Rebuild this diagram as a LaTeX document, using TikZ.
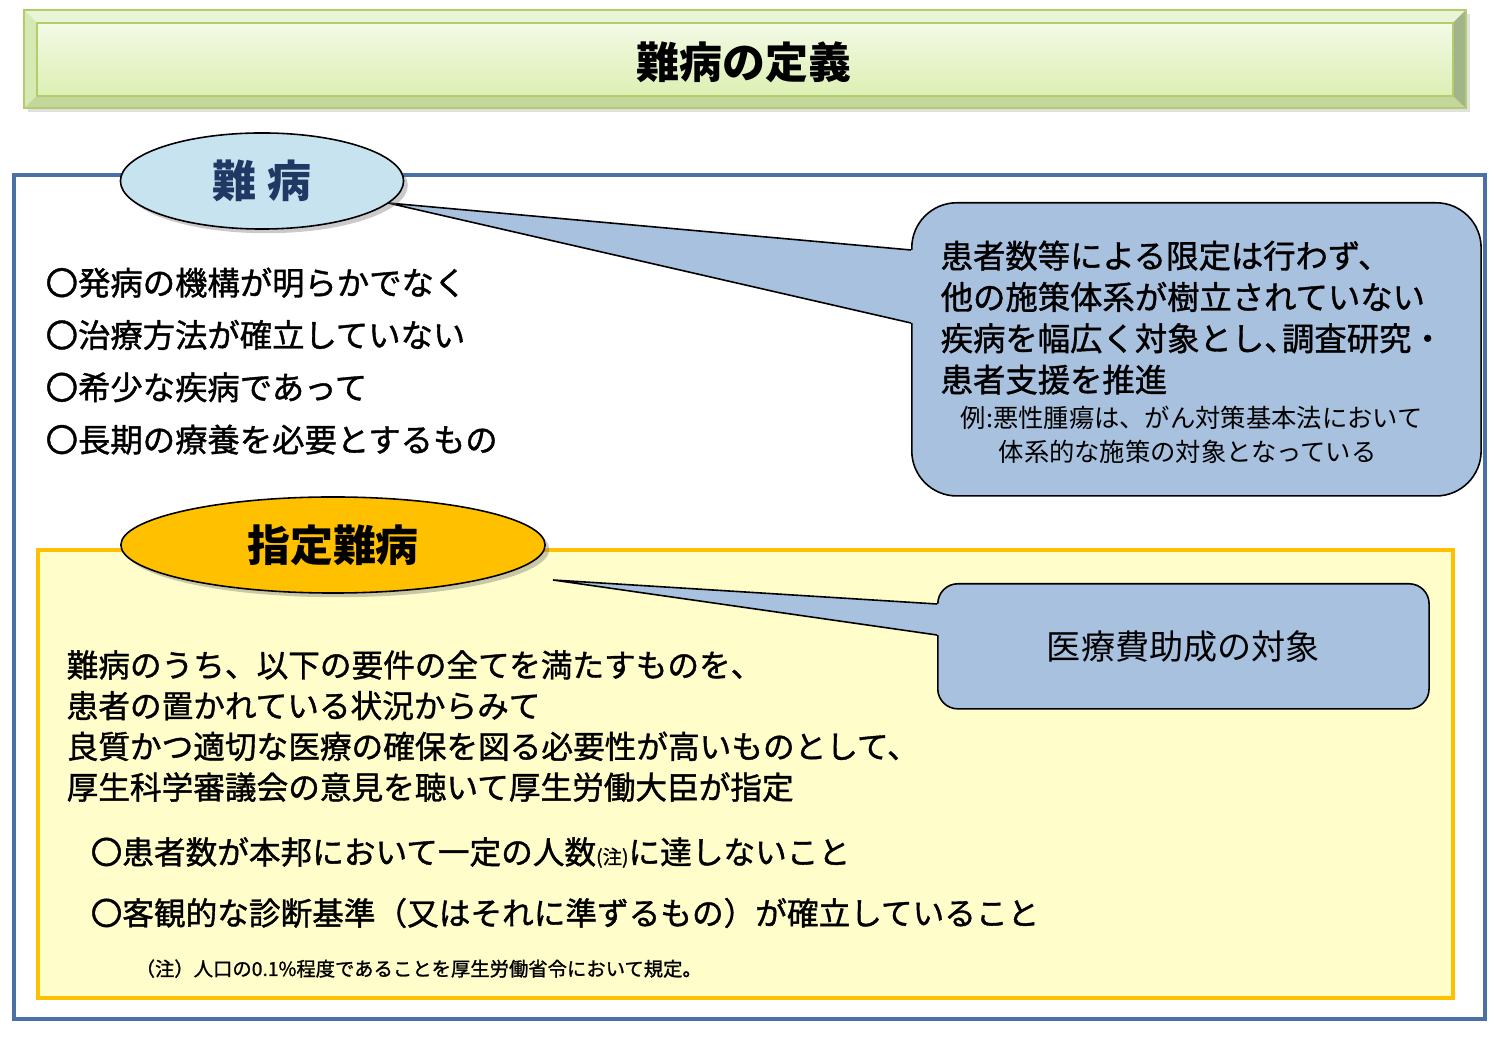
\documentclass[tikz,border=0pt]{standalone}
\usepackage{fontspec}
\setmainfont{Noto Sans CJK JP}
\newfontfamily\medfont{Noto Sans CJK JP}[FakeBold=1.2]
\usetikzlibrary{shapes.geometric,shadows}

\definecolor{titleline}{HTML}{B2CE6C}
\definecolor{titletop}{HTML}{F3FAE6}
\definecolor{titlebot}{HTML}{DDEFB3}
\definecolor{bevtop}{HTML}{EAF4D6}
\definecolor{bevleft}{HTML}{D6E9B2}
\definecolor{bevbot}{HTML}{C3D69B}
\definecolor{bevright}{HTML}{A3B38A}
\definecolor{frameblue}{HTML}{4A70A6}
\definecolor{nanbyofill}{HTML}{C6E3EF}
\definecolor{navytext}{HTML}{1F3864}
\definecolor{calloutblue}{HTML}{A7C1DE}
\definecolor{yellowfill}{HTML}{FFFDC9}
\definecolor{yellowline}{HTML}{FFC000}
\definecolor{goldfill}{HTML}{FFC000}

\tikzset{
  bigtext/.style={font=\medfont\fontsize{9.2}{11}\selectfont, inner sep=0pt, anchor=base west},
  bodytext/.style={font=\medfont\fontsize{9}{11}\selectfont, inner sep=0pt, anchor=base west},
  smalltext/.style={font=\fontsize{7.2}{8}\selectfont, inner sep=0pt, anchor=base west},
  callout/.style={draw=black, line width=0.45pt, fill=calloutblue},
  labelellipse/.style={ellipse, draw=black, line width=0.45pt, inner sep=0pt,
    drop shadow={shadow xshift=1.2pt, shadow yshift=-1.2pt, opacity=0.35, fill=black!60}},
}

\begin{document}
\begin{tikzpicture}[x=0.01cm, y=-0.01cm]
    \useasboundingbox (0,0) rectangle (1496,1037);

    % title bar with bevel
    \fill[black, opacity=0.12] (28,14) rectangle (1470,112);
    \fill[bevtop] (24,10) -- (1466,10) -- (1453,23) -- (37,23) -- cycle;
    \fill[bevleft] (24,10) -- (37,23) -- (37,96) -- (24,108) -- cycle;
    \fill[bevbot] (24,108) -- (37,96) -- (1453,96) -- (1466,108) -- cycle;
    \fill[bevright] (1466,10) -- (1453,23) -- (1453,96) -- (1466,108) -- cycle;
    \shade[top color=titletop, bottom color=titlebot] (37,23) rectangle (1453,96);
    \draw[titleline, line width=0.5pt] (24,10) rectangle (1466,108);
    \draw[titleline, line width=0.4pt] (37,23) rectangle (1453,96);
    \node[font=\bfseries\fontsize{12.2}{14}\selectfont] (title) at (744,62) {難病の定義};

    % outer frame and yellow box
    \draw[frameblue, line width=0.9pt] (14,175) rectangle (1485,1019);
    \draw[yellowline, fill=yellowfill, line width=1.2pt] (38,550) rectangle (1453,998);

    % callout boxes
    \node[callout, rounded corners=0.45cm, minimum width=5.69cm, minimum height=2.93cm, anchor=north west] (cb1) at (911,202) {};
    \node[callout, rounded corners=0.2cm, minimum width=4.91cm, minimum height=1.25cm, anchor=north west] (cb2) at (937,583) {};

    % callout tails
    \coordinate (tip1) at (388,203);
    \coordinate (t1a) at (911,250);
    \coordinate (t1b) at (911,323);
    \fill[calloutblue] (tip1) -- (t1a) -- (915,250) -- (915,323) -- (t1b) -- cycle;
    \draw[line width=0.45pt] (t1a) -- (tip1) -- (t1b);

    \coordinate (tip2) at (553,580);
    \coordinate (t2a) at (937,604);
    \coordinate (t2b) at (937,635);
    \fill[calloutblue] (tip2) -- (t2a) -- (941,604) -- (941,635) -- (t2b) -- cycle;
    \draw[line width=0.45pt] (t2a) -- (tip2) -- (t2b);

    % ellipse labels
    \node[labelellipse, fill=nanbyofill, minimum width=2.83cm, minimum height=0.96cm,
      font=\bfseries\fontsize{12.5}{14}\selectfont, text=navytext] (nanbyo) at (262,181) {難\hspace{0.25em}病};
    \node[labelellipse, fill=goldfill, minimum width=4.24cm, minimum height=0.96cm,
      font=\bfseries\fontsize{12.2}{14}\selectfont] (shitei) at (333,545) {指定難病};

    % conditions of nanbyo
    \foreach \txt [count=\i] in {〇発病の機構が明らかでなく,%
        〇治療方法が確立していない,%
        〇希少な疾病であって,%
        〇長期の療養を必要とするもの}
        \node[bigtext] (cond\i) at (45,{295+(\i-1)*52.3}) {\txt};

    % callout 1 text
    \foreach \txt [count=\i] in {患者数等による限定は行わず、,%
        他の施策体系が樹立されていない,%
        疾病を幅広く対象とし、\hspace{-0.45em}調査研究・,%
        患者支援を推進}
        \node[bigtext] (cl\i) at (940,{268+(\i-1)*41.3}) {\txt};
    \node[smalltext] (ex1) at (960,428) {例:悪性腫瘍は、がん対策基本法において};
    \node[smalltext] (ex2) at (998,462) {体系的な施策の対象となっている};

    % callout 2 text
    \node[font=\fontsize{9.7}{11}\selectfont] (cb2text) at (cb2.center) {医療費助成の対象};

    % shitei nanbyo text
    \foreach \txt [count=\i] in {難病のうち、以下の要件の全てを満たすものを、,%
        患者の置かれている状況からみて,%
        良質かつ適切な医療の確保を図る必要性が高いものとして、,%
        厚生科学審議会の意見を聴いて厚生労働大臣が指定}
        \node[bodytext] (def\i) at (66,{677+(\i-1)*40.7}) {\txt};
    \node[bodytext] (req1) at (90,864) {〇患者数が本邦において一定の人数{\fontsize{5.5}{6}\selectfont (注)}に達しないこと};
    \node[bodytext] (req2) at (90,925) {〇客観的な診断基準（又はそれに準ずるもの）が確立していること};
    \node[font=\medfont\fontsize{5.5}{6}\selectfont, inner sep=0pt, anchor=base west] (note) at (135,976) {（注）人口の0.1\%程度であることを厚生労働省令において規定。};
\end{tikzpicture}
\end{document}
